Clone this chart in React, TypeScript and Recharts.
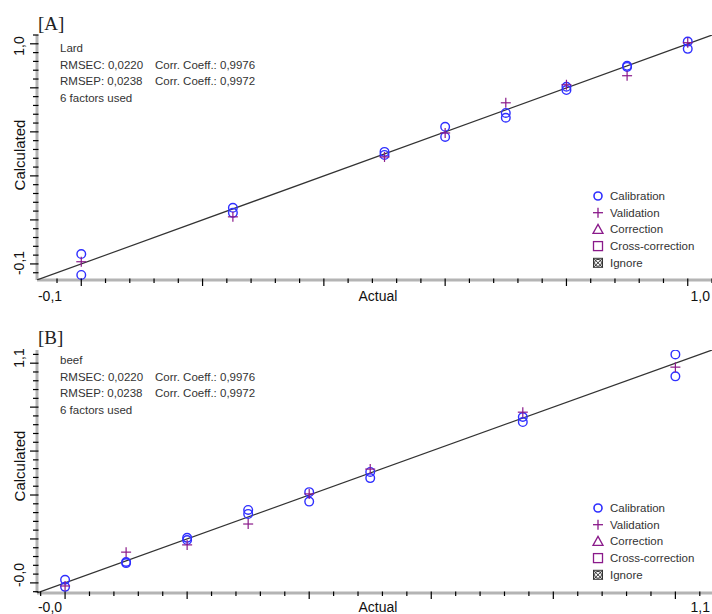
import React from "react";
import { Scatter, ScatterChart, XAxis, YAxis } from "recharts";

// [A] lard
const lardActual = [0, 0.25, 0.5, 0.6, 0.7, 0.8, 0.9, 1.0];
const lardCalA = [0.045, 0.255, 0.509, 0.623, 0.686, 0.805, 0.9, 1.01];
const lardCalB = [-0.05, 0.232, 0.495, 0.577, 0.664, 0.79, 0.895, 0.977];
const lardVal = [0.01, 0.214, 0.486, 0.595, 0.732, 0.814, 0.855, 1.005];

// [B] beef
const beefActual = [0, 0.1, 0.2, 0.3, 0.4, 0.5, 0.75, 1.0];
const beefCalA = [0.014, 0.095, 0.205, 0.332, 0.413, 0.505, 0.755, 1.04];
const beefCalB = [-0.018, 0.09, 0.195, 0.314, 0.37, 0.477, 0.732, 0.94];
const beefVal = [-0.014, 0.14, 0.173, 0.268, 0.405, 0.518, 0.777, 0.982];

const axisTicks = [
    -0.04, 0, 0.04, 0.08, 0.12, 0.16, 0.2, 0.24, 0.28, 0.32, 0.36, 0.4, 0.44, 0.48,
    0.52, 0.56, 0.6, 0.64, 0.68, 0.72, 0.76, 0.8, 0.84, 0.88, 0.92, 0.96, 1.0, 1.04,
];

const legendItems = ["Calibration", "Validation", "Correction", "Cross-correction", "Ignore"];
const statsRmse = ["RMSEC: 0,0220", "RMSEP: 0,0238"];
const statsCorr = ["Corr. Coeff.: 0,9976", "Corr. Coeff.: 0,9972"];

const BLUE = "#2f2fff";
const PURPLE = "#8a1a8a";
const FONT = "'Liberation Sans', Arial, sans-serif";

const isMajor = (v: number) => Math.abs(v * 5 - Math.round(v * 5)) < 1e-6;

const pairs = (xs: number[], ys: number[]) => xs.map((x, i) => ({ x, y: ys[i] }));

function XTick(props: any) {
    const { x, y, payload } = props;
    const major = isMajor(payload.value);
    return <line x1={x} x2={x} y1={y - 1.5} y2={y + (major ? 6 : 3)} stroke="#000" strokeWidth={1.2} />;
}

function YTick(props: any) {
    const { x, y, payload } = props;
    const major = isMajor(payload.value);
    return <line x1={x - (major ? 7 : 4)} x2={x + 1.5} y1={y} y2={y} stroke="#000" strokeWidth={1.2} />;
}

const Ring = (p: any) => <circle cx={p.cx} cy={p.cy} r={4.3} fill="none" stroke={BLUE} strokeWidth={1.4} />;

const Plus = (p: any) => (
    <g stroke={PURPLE} strokeWidth={1.2}>
        <line x1={p.cx - 5} x2={p.cx + 5} y1={p.cy} y2={p.cy} />
        <line x1={p.cx} x2={p.cx} y1={p.cy - 5} y2={p.cy + 5} />
    </g>
);

const NoDot = () => <g />;

type PanelProps = {
    top: number;
    marginTop: number;
    axisHeight: number;
    domain: [number, number];
    actual: number[];
    calA: number[];
    calB: number[];
    val: number[];
};

function Panel({ top, marginTop, axisHeight, domain, actual, calA, calB, val }: PanelProps) {
    const fitLine = [
        { x: domain[0], y: domain[0] },
        { x: domain[1], y: domain[1] },
    ];
    return (
        <div style={{ position: "absolute", left: 0, top }}>
            <ScatterChart width={712} height={307} margin={{ top: marginTop, right: 0, left: 0, bottom: 0 }}>
                <XAxis
                    type="number"
                    dataKey="x"
                    domain={domain}
                    allowDataOverflow
                    ticks={axisTicks}
                    interval={0}
                    height={axisHeight}
                    tickSize={0}
                    tickMargin={0}
                    tickLine={false}
                    tick={<XTick />}
                    axisLine={{ stroke: "#b4b4b4", strokeWidth: 3 }}
                />
                <YAxis
                    type="number"
                    dataKey="y"
                    domain={domain}
                    allowDataOverflow
                    ticks={axisTicks}
                    interval={0}
                    width={37}
                    tickSize={0}
                    tickMargin={0}
                    tickLine={false}
                    tick={<YTick />}
                    axisLine={{ stroke: "#b4b4b4", strokeWidth: 3 }}
                />
                <Scatter data={fitLine} line={{ stroke: "#333", strokeWidth: 1.2 }} shape={<NoDot />} isAnimationActive={false} />
                <Scatter data={pairs(actual, calA)} shape={<Ring />} isAnimationActive={false} />
                <Scatter data={pairs(actual, calB)} shape={<Ring />} isAnimationActive={false} />
                <Scatter data={pairs(actual, val)} shape={<Plus />} isAnimationActive={false} />
            </ScatterChart>
        </div>
    );
}

function LegendSymbol({ kind, x, y }: { kind: number; x: number; y: number }) {
    if (kind === 0) return <circle cx={x} cy={y} r={4} fill="none" stroke={BLUE} strokeWidth={1.6} />;
    if (kind === 1)
        return (
            <g stroke={PURPLE} strokeWidth={1.3}>
                <line x1={x - 5} x2={x + 5} y1={y} y2={y} />
                <line x1={x} x2={x} y1={y - 5} y2={y + 5} />
            </g>
        );
    if (kind === 2) return <polygon points={`${x},${y - 5} ${x + 5},${y + 4} ${x - 5},${y + 4}`} fill="none" stroke={PURPLE} strokeWidth={1.3} />;
    if (kind === 3) return <rect x={x - 4.5} y={y - 4.5} width={9} height={9} fill="none" stroke={PURPLE} strokeWidth={1.3} />;
    return (
        <g stroke="#333" strokeWidth={1} fill="none">
            <circle cx={x} cy={y} r={3.5} />
            <line x1={x - 4.5} x2={x + 4.5} y1={y - 4.5} y2={y + 4.5} />
            <line x1={x - 4.5} x2={x + 4.5} y1={y + 4.5} y2={y - 4.5} />
            <rect x={x - 4.5} y={y - 4.5} width={9} height={9} />
        </g>
    );
}

type OverlayProps = {
    title: string;
    sample: string;
    titleY: number;
    statsY: number;
    legendY: number;
    axisY: number;
    yLabelTop: string;
    yLabelBottom: string;
    yTopY: number;
    yBottomY: number;
    calcY: number;
    xLabelLeft: string;
    xLabelRight: string;
};

function Overlay(o: OverlayProps) {
    return (
        <g fontFamily={FONT}>
            <text x={38} y={o.titleY} fontFamily="'Liberation Serif', 'Times New Roman', serif" fontSize={19} fill="#222">
                {o.title}
            </text>
            <text x={60} y={o.statsY} fontSize={11.5} fill="#333">{o.sample}</text>
            {statsRmse.map((s, i) => (
                <g key={s}>
                    <text x={60} y={o.statsY + 16.5 * (i + 1)} fontSize={11.5} fill="#333">{s}</text>
                    <text x={155} y={o.statsY + 16.5 * (i + 1)} fontSize={11.5} fill="#333">{statsCorr[i]}</text>
                </g>
            ))}
            <text x={60} y={o.statsY + 16.5 * 3} fontSize={11.5} fill="#333">6 factors used</text>
            {legendItems.map((t, i) => (
                <g key={t}>
                    <LegendSymbol kind={i} x={598} y={o.legendY + 16.7 * i} />
                    <text x={610} y={o.legendY + 16.7 * i} dominantBaseline="central" fontSize={11.5} fill="#333">{t}</text>
                </g>
            ))}
            <text x={50} y={o.axisY} textAnchor="middle" dominantBaseline="central" fontSize={14} fill="#111">{o.xLabelLeft}</text>
            <text x={378} y={o.axisY} textAnchor="middle" dominantBaseline="central" fontSize={14} fill="#111">Actual</text>
            <text x={710} y={o.axisY} textAnchor="end" dominantBaseline="central" fontSize={14} fill="#111">{o.xLabelRight}</text>
            <text x={19} y={o.yTopY} transform={`rotate(-90 19 ${o.yTopY})`} textAnchor="middle" dominantBaseline="central" fontSize={14} fill="#111">{o.yLabelTop}</text>
            <text x={19} y={o.yBottomY} transform={`rotate(-90 19 ${o.yBottomY})`} textAnchor="middle" dominantBaseline="central" fontSize={14} fill="#111">{o.yLabelBottom}</text>
            <text x={19} y={o.calcY} transform={`rotate(-90 19 ${o.calcY})`} textAnchor="middle" dominantBaseline="central" fontSize={15} fill="#111">Calculated</text>
        </g>
    );
}

export default function App() {
    return (
        <div style={{ position: "absolute", left: 0, top: 0, width: 712, height: 614, overflow: "hidden", background: "#fff" }}>
            <Panel top={0} marginTop={35} axisHeight={27} domain={[-0.073, 1.04]} actual={lardActual} calA={lardCalA} calB={lardCalB} val={lardVal} />
            <Panel top={307} marginTop={43} axisHeight={21} domain={[-0.046, 1.06]} actual={beefActual} calA={beefCalA} calB={beefCalB} val={beefVal} />
            <svg width={712} height={614} style={{ position: "absolute", left: 0, top: 0, pointerEvents: "none" }}>
                <Overlay
                    title="[A]" sample="Lard" titleY={30} statsY={52} legendY={196} axisY={296}
                    yLabelTop="1,0" yLabelBottom="-0,1" yTopY={46} yBottomY={263} calcY={155}
                    xLabelLeft="-0,1" xLabelRight="1,0"
                />
                <Overlay
                    title="[B]" sample="beef" titleY={344} statsY={364} legendY={508} axisY={607}
                    yLabelTop="1,1" yLabelBottom="-0,0" yTopY={358} yBottomY={575} calcY={466}
                    xLabelLeft="-0,0" xLabelRight="1,1"
                />
            </svg>
        </div>
    );
}
